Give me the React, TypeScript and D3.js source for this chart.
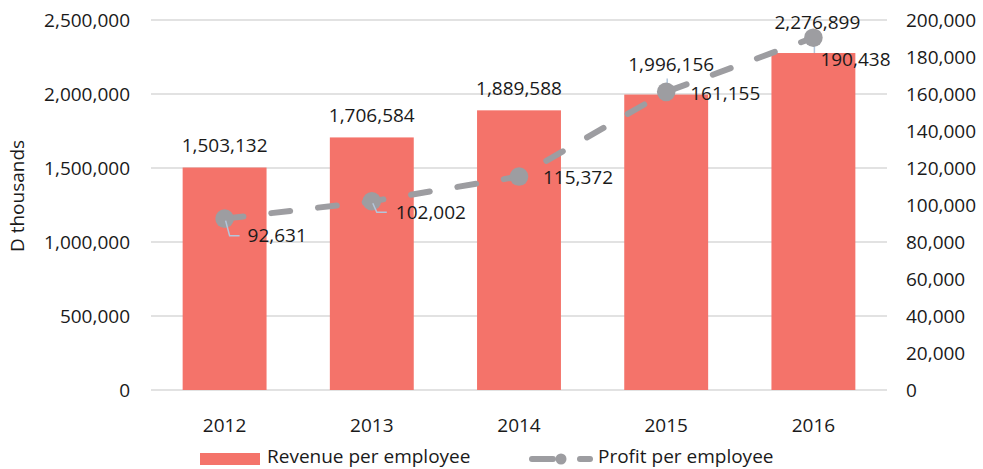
import React from "react";
import * as d3 from "d3";

const years = ["2012", "2013", "2014", "2015", "2016"];
const revenue = [1503132, 1706584, 1889588, 1996156, 2276899];
const profit = [92631, 102002, 115372, 161155, 190438];
const leftTicks = [0, 500000, 1000000, 1500000, 2000000, 2500000];
const rightTicks = [0, 20000, 40000, 60000, 80000, 100000, 120000, 140000, 160000, 180000, 200000];
const seriesNames = ["Revenue per employee", "Profit per employee"];
const yTitle = "D thousands";

// layout tweaks for label placement (pixels, not data)
const barLabelLift = [22, 22, 22, 30, 31];
const barLabelDx = [0, 0, 0, 5, 4];
const profitLabelPos = [
  { dx: 23, dy: 17 },
  { dx: 24, dy: 11 },
  { dx: 24, dy: 1 },
  { dx: 24, dy: 1 },
  { dx: 7, dy: 22 },
];

const W = 983;
const H = 469;
const FONT = "'Open Sans', 'Noto Sans', sans-serif";
const FS = 19;
const BAR = "#f4736a";
const LINE = "#9d9da1";
const LEADER = "#b3c6db";
const GRID = "#d9d9d9";
const TXT = "#1a1a1a";

export default function App() {
  const x = d3.scaleBand<string>().domain(years).range([151, 887]).paddingInner(0.43).paddingOuter(0.215);
  const yL = d3.scaleLinear().domain([0, 2500000]).range([390, 20]);
  const yR = d3.scaleLinear().domain([0, 200000]).range([390, 20]);
  const fmt = d3.format(",");
  const cx = (i: number) => (x(years[i]) as number) + x.bandwidth() / 2;
  const pts: [number, number][] = profit.map((v, i) => [cx(i), yR(v)]);
  const linePath = d3.line()(pts) as string;
  const legBase = 463;
  const legMid = 459;

  return (
    <div style={{ position: "absolute", left: 0, top: 0 }}>
      <svg width={W} height={H} style={{ display: "block", fontFamily: FONT }}>
        <rect width={W} height={H} fill="#fff" />
        {leftTicks.map((t) => (
          <line key={"g" + t} x1={151} x2={887} y1={yL(t)} y2={yL(t)} stroke={GRID} strokeWidth={1.3} />
        ))}
        {leftTicks.map((t) => (
          <text key={"l" + t} x={130} y={yL(t)} dy="0.35em" textAnchor="end" fontSize={FS} fill={TXT}>
            {fmt(t)}
          </text>
        ))}
        {rightTicks.map((t) => (
          <text key={"r" + t} x={906} y={yR(t)} dy="0.35em" textAnchor="start" fontSize={FS} fill={TXT}>
            {fmt(t)}
          </text>
        ))}
        <text
          transform={`translate(17,196) rotate(-90)`}
          textAnchor="middle"
          dy="0.35em"
          fontSize={FS}
          fill={TXT}
        >
          {yTitle}
        </text>
        {years.map((y, i) => (
          <text key={"x" + y} x={cx(i)} y={425} dy="0.35em" textAnchor="middle" fontSize={FS} fill={TXT}>
            {y}
          </text>
        ))}
        {revenue.map((v, i) => (
          <rect
            key={"b" + i}
            x={x(years[i])}
            y={yL(v)}
            width={x.bandwidth()}
            height={yL(0) - yL(v)}
            fill={BAR}
          />
        ))}
        {revenue.map((v, i) =>
          barLabelLift[i] > 25 ? (
            <line
              key={"bl" + i}
              x1={cx(i) + 1}
              x2={cx(i) + 1}
              y1={yL(v) - barLabelLift[i] + 14}
              y2={yL(v)}
              stroke={LEADER}
              strokeWidth={1.5}
            />
          ) : null
        )}
        <path
          d={linePath}
          fill="none"
          stroke={LINE}
          strokeWidth={6}
          strokeDasharray="19 28"
          strokeLinecap="round"
        />
        {pts.map((p, i) => (
          <circle key={"m" + i} cx={p[0]} cy={p[1]} r={9.3} fill={LINE} />
        ))}
        {pts.map((p, i) =>
          i < 2 ? (
            <polyline
              key={"pl" + i}
              points={`${p[0] + 1},${p[1] + 2} ${p[0] + 5},${p[1] + profitLabelPos[i].dy} ${p[0] + 15},${p[1] + profitLabelPos[i].dy}`}
              fill="none"
              stroke={LEADER}
              strokeWidth={1.5}
            />
          ) : null
        )}
        {revenue.map((v, i) => (
          <text
            key={"bt" + i}
            x={cx(i) + barLabelDx[i]}
            y={yL(v) - barLabelLift[i]}
            dy="0.35em"
            textAnchor="middle"
            fontSize={FS}
            fill={TXT}
          >
            {fmt(v)}
          </text>
        ))}
        {profit.map((v, i) => (
          <text
            key={"pt" + i}
            x={pts[i][0] + profitLabelPos[i].dx}
            y={pts[i][1] + profitLabelPos[i].dy}
            dy="0.35em"
            textAnchor="start"
            fontSize={FS}
            fill={TXT}
          >
            {fmt(v)}
          </text>
        ))}
        <rect x={200} y={legMid - 6} width={60} height={12} fill={BAR} />
        <text x={267} y={legBase} fontSize={FS} fill={TXT}>
          {seriesNames[0]}
        </text>
        <line x1={532} x2={553} y1={legMid} y2={legMid} stroke={LINE} strokeWidth={6} strokeLinecap="round" />
        <circle cx={561} cy={legMid} r={5.5} fill={LINE} />
        <line x1={580} x2={590} y1={legMid} y2={legMid} stroke={LINE} strokeWidth={6} strokeLinecap="round" />
        <text x={598} y={legBase} fontSize={FS} fill={TXT}>
          {seriesNames[1]}
        </text>
      </svg>
    </div>
  );
}
